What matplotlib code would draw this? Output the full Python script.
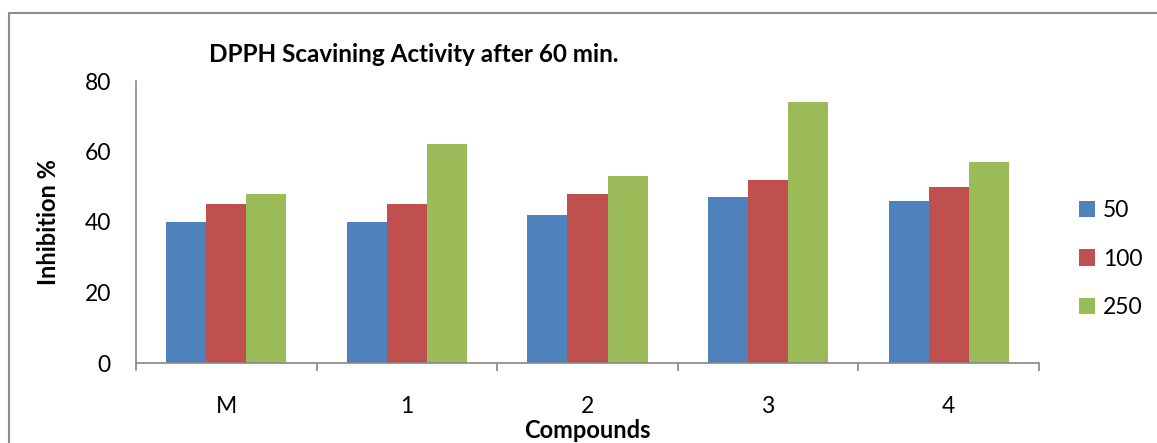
import numpy as np
import matplotlib.pyplot as plt
from matplotlib.patches import Rectangle

compounds = ["M", "1", "2", "3", "4"]
conc_labels = ["50", "100", "250"]
inhib_50 = [40, 40, 42, 47, 46]
inhib_100 = [45, 45, 48, 52, 50]
inhib_250 = [48, 62, 53, 74, 57]
colors = ["#4F81BD", "#C0504D", "#9BBB59"]

plt.rcParams['font.family'] = ['Lato', 'DejaVu Sans']

W, H = 1157, 443
fig = plt.figure(figsize=(W / 100, H / 100), dpi=100)
ax = fig.add_axes([136 / W, (H - 363) / H, 903 / W, 282 / H])

x = np.arange(len(compounds))
bw = 0.2215
for i, (vals, c, lab) in enumerate(zip([inhib_50, inhib_100, inhib_250], colors, conc_labels)):
    ax.bar(x + (i - 1) * bw, vals, bw, color=c, label=lab, edgecolor='none')

ax.set_xlim(-0.5, len(compounds) - 0.5)
ax.set_ylim(0, 80)
ax.set_yticks([0, 20, 40, 60, 80])
ax.set_xticks(x)
ax.set_xticklabels(compounds)
ax.set_xticks(np.arange(len(compounds) + 1) - 0.5, minor=True)
ax.tick_params(axis='x', which='major', length=0, labelsize=16.5, pad=24)
ax.tick_params(axis='x', which='minor', length=6, width=1.2, color='#868686', direction='out')
ax.tick_params(axis='y', length=0, labelsize=16.5, pad=18)

for s in ['top', 'right']:
    ax.spines[s].set_visible(False)
for s in ['left', 'bottom']:
    ax.spines[s].set_color('#868686')
    ax.spines[s].set_linewidth(1.2)

fig.text(209 / W, (H - 55) / H, "DPPH Scavining Activity after 60 min.",
         fontsize=17.5, fontweight='bold', ha='left', va='center')
fig.text(48 / W, (H - 222) / H, "Inhibition %", fontsize=17, fontweight='bold',
         rotation=90, ha='center', va='center')
fig.text(587 / W, (H - 431) / H, "Compounds", fontsize=17, fontweight='bold',
         ha='center', va='center')

ax.legend(loc='center left', bbox_to_anchor=(1058 / W, (H - 259) / H),
          bbox_transform=fig.transFigure, frameon=False, fontsize=16.5,
          handlelength=0.7, handleheight=0.7, handletextpad=0.35, labelspacing=1.2)

fig.patches.append(Rectangle((9 / W, -0.1), 1.1, (H - 13) / H + 0.1, transform=fig.transFigure,
                             fill=False, edgecolor='#8c8c8c', linewidth=1.5, figure=fig))

fig.savefig("out.png", dpi=100)
